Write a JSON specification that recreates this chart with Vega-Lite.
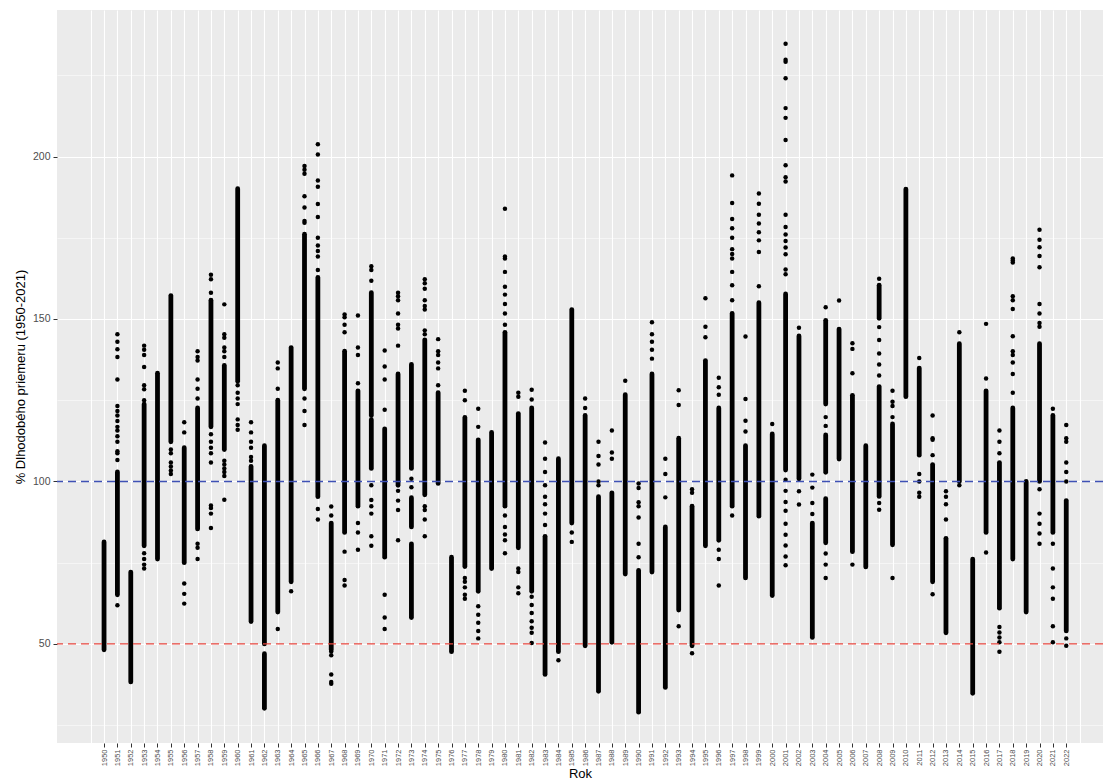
{
"$schema": "https://vega.github.io/schema/vega-lite/v6.json",
"width": 1046, "height": 733,
"autosize": {"type": "none"},
"padding": {"left": 57, "top": 10, "right": 0, "bottom": 40},
"background": "white",
"config": {"view": {"fill": "#EBEBEB", "stroke": null}, "font": "Liberation Sans"},
"datasets": {
"segs": [
{"Year":1950,"lo":48.2,"hi":81.4},{"Year":1951,"lo":65.1,"hi":102.9},{"Year":1952,"lo":38.3,"hi":72.1},{"Year":1953,"lo":80.2,"hi":123.8},
{"Year":1954,"lo":76.1,"hi":133.3},{"Year":1955,"lo":112.2,"hi":157.2},{"Year":1956,"lo":75.0,"hi":110.4},{"Year":1957,"lo":85.4,"hi":122.6},
{"Year":1958,"lo":116.8,"hi":155.8},{"Year":1959,"lo":109.8,"hi":135.7},{"Year":1960,"lo":130.8,"hi":190.1},{"Year":1961,"lo":56.9,"hi":104.6},
{"Year":1962,"lo":50,"hi":111},{"Year":1962,"lo":30.2,"hi":47},{"Year":1963,"lo":59.8,"hi":125},{"Year":1964,"lo":69.1,"hi":141.2},
{"Year":1965,"lo":128.5,"hi":176.1},{"Year":1966,"lo":95.3,"hi":162.8},{"Year":1967,"lo":48.2,"hi":87.2},{"Year":1968,"lo":84.3,"hi":140.1},
{"Year":1969,"lo":92.4,"hi":127.9},{"Year":1970,"lo":120.3,"hi":158.1},{"Year":1970,"lo":104,"hi":119},{"Year":1971,"lo":76.7,"hi":116.2},
{"Year":1972,"lo":98.8,"hi":133.1},{"Year":1973,"lo":104,"hi":136},{"Year":1973,"lo":86,"hi":95},{"Year":1973,"lo":58.1,"hi":80.8},
{"Year":1974,"lo":95.9,"hi":143.6},{"Year":1975,"lo":99.4,"hi":127.3},{"Year":1976,"lo":47.6,"hi":76.7},{"Year":1977,"lo":73.8,"hi":119.7},
{"Year":1978,"lo":66.2,"hi":112.8},{"Year":1979,"lo":73.2,"hi":115.1},{"Year":1980,"lo":92.4,"hi":145.9},{"Year":1981,"lo":79.6,"hi":120.9},
{"Year":1982,"lo":66.2,"hi":122.6},{"Year":1983,"lo":40.6,"hi":83.1},{"Year":1984,"lo":47.6,"hi":107},{"Year":1985,"lo":87.2,"hi":152.9},
{"Year":1986,"lo":49.4,"hi":120.3},{"Year":1987,"lo":35.4,"hi":95.3},{"Year":1988,"lo":50.5,"hi":96.5},{"Year":1989,"lo":71.5,"hi":126.7},
{"Year":1990,"lo":29,"hi":72.6},{"Year":1991,"lo":72.1,"hi":133.1},{"Year":1992,"lo":36.6,"hi":86},{"Year":1993,"lo":60.4,"hi":113.3},
{"Year":1994,"lo":49.4,"hi":92.4},{"Year":1995,"lo":80.2,"hi":137.2},{"Year":1996,"lo":81.9,"hi":122.6},{"Year":1997,"lo":92.4,"hi":151.7},
{"Year":1998,"lo":70.3,"hi":111},{"Year":1999,"lo":89.3,"hi":155},{"Year":2000,"lo":64.9,"hi":114.6},{"Year":2001,"lo":103.5,"hi":157.7},
{"Year":2002,"lo":100.8,"hi":144.8},{"Year":2003,"lo":52,"hi":87.2},{"Year":2004,"lo":123.8,"hi":149.6},{"Year":2004,"lo":102.8,"hi":114.3},
{"Year":2004,"lo":81.1,"hi":94.7},{"Year":2005,"lo":106.9,"hi":146.9},{"Year":2006,"lo":78.4,"hi":126.5},{"Year":2007,"lo":73.7,"hi":111},
{"Year":2008,"lo":150.2,"hi":160.4},{"Year":2008,"lo":95.4,"hi":129.2},{"Year":2009,"lo":80.5,"hi":117.7},{"Year":2010,"lo":126.1,"hi":190},
{"Year":2011,"lo":108.1,"hi":134.9},{"Year":2012,"lo":69.1,"hi":105.2},{"Year":2013,"lo":53.4,"hi":82.5},{"Year":2014,"lo":100,"hi":142.4},
{"Year":2015,"lo":34.8,"hi":76.1},{"Year":2016,"lo":84.3,"hi":127.9},{"Year":2017,"lo":61,"hi":105.8},{"Year":2018,"lo":76.1,"hi":122.6},
{"Year":2019,"lo":59.8,"hi":100},{"Year":2020,"lo":100,"hi":142.4},{"Year":2021,"lo":84.3,"hi":120.3},{"Year":2022,"lo":54,"hi":94.1}
],
"pts": [
{"Year":1951,"v":145.3},{"Year":1951,"v":143},{"Year":1951,"v":140.7},{"Year":1951,"v":138.3},{"Year":1951,"v":131.4},{"Year":1951,"v":123.2},{"Year":1951,"v":121.7},{"Year":1951,"v":120.3},{"Year":1951,"v":118.6},{"Year":1951,"v":116.8},{"Year":1951,"v":115.7},{"Year":1951,"v":113.9},{"Year":1951,"v":112.2},{"Year":1951,"v":109.3},{"Year":1951,"v":108.7},{"Year":1951,"v":106.6},{"Year":1951,"v":61.9},
{"Year":1953,"v":141.8},{"Year":1953,"v":140.5},{"Year":1953,"v":138.9},{"Year":1953,"v":135.2},{"Year":1953,"v":129.6},{"Year":1953,"v":128.4},{"Year":1953,"v":125},{"Year":1953,"v":77.9},{"Year":1953,"v":76.1},{"Year":1953,"v":74.4},{"Year":1953,"v":73.2},
{"Year":1955,"v":109.8},{"Year":1955,"v":108.7},{"Year":1955,"v":105.8},{"Year":1955,"v":104.6},{"Year":1955,"v":103.4},{"Year":1955,"v":102.3},
{"Year":1956,"v":118.2},{"Year":1956,"v":115.1},{"Year":1956,"v":68.6},{"Year":1956,"v":65.4},{"Year":1956,"v":62.4},
{"Year":1957,"v":140.1},{"Year":1957,"v":138.3},{"Year":1957,"v":137.2},{"Year":1957,"v":131.4},{"Year":1957,"v":128.5},{"Year":1957,"v":125.5},{"Year":1957,"v":80.8},{"Year":1957,"v":79.6},{"Year":1957,"v":76.1},
{"Year":1958,"v":163.6},{"Year":1958,"v":162.2},{"Year":1958,"v":158.1},{"Year":1958,"v":114.5},{"Year":1958,"v":112.2},{"Year":1958,"v":110.4},{"Year":1958,"v":108.7},{"Year":1958,"v":105.8},{"Year":1958,"v":92.6},{"Year":1958,"v":91.8},{"Year":1958,"v":90.1},{"Year":1958,"v":85.7},
{"Year":1959,"v":154.5},{"Year":1959,"v":145.3},{"Year":1959,"v":144.2},{"Year":1959,"v":141.2},{"Year":1959,"v":140.1},{"Year":1959,"v":138.3},{"Year":1959,"v":106.4},{"Year":1959,"v":105.2},{"Year":1959,"v":104},{"Year":1959,"v":102.9},{"Year":1959,"v":101.7},{"Year":1959,"v":94.4},
{"Year":1960,"v":129.6},{"Year":1960,"v":127.3},{"Year":1960,"v":125.5},{"Year":1960,"v":123.8},{"Year":1960,"v":119.1},{"Year":1960,"v":117.4},{"Year":1960,"v":115.9},
{"Year":1961,"v":118.2},{"Year":1961,"v":115.1},{"Year":1961,"v":112.2},{"Year":1961,"v":110.4},{"Year":1961,"v":107.5},{"Year":1961,"v":106.4},
{"Year":1963,"v":136.6},{"Year":1963,"v":134.8},{"Year":1963,"v":128.5},{"Year":1963,"v":54.6},
{"Year":1964,"v":66.2},
{"Year":1965,"v":197.1},{"Year":1965,"v":195.9},{"Year":1965,"v":194.7},{"Year":1965,"v":187.8},{"Year":1965,"v":184.3},{"Year":1965,"v":180.2},{"Year":1965,"v":179.6},{"Year":1965,"v":125.5},{"Year":1965,"v":121.7},{"Year":1965,"v":117.4},
{"Year":1966,"v":203.8},{"Year":1966,"v":200.6},{"Year":1966,"v":192.6},{"Year":1966,"v":190.7},{"Year":1966,"v":185.4},{"Year":1966,"v":181.4},{"Year":1966,"v":175},{"Year":1966,"v":172.6},{"Year":1966,"v":170.9},{"Year":1966,"v":169.2},{"Year":1966,"v":165.1},{"Year":1966,"v":91.5},{"Year":1966,"v":88.3},
{"Year":1967,"v":92.3},{"Year":1967,"v":89.5},{"Year":1967,"v":47.7},{"Year":1967,"v":46.5},{"Year":1967,"v":40.6},{"Year":1967,"v":38.3},{"Year":1967,"v":37.7},
{"Year":1968,"v":151.4},{"Year":1968,"v":150.5},{"Year":1968,"v":148.2},{"Year":1968,"v":145.9},{"Year":1968,"v":78.4},{"Year":1968,"v":69.7},{"Year":1968,"v":68},
{"Year":1969,"v":151.1},{"Year":1969,"v":141.2},{"Year":1969,"v":138.9},{"Year":1969,"v":130.2},{"Year":1969,"v":87.2},{"Year":1969,"v":84.3},{"Year":1969,"v":79},
{"Year":1970,"v":166.2},{"Year":1970,"v":165.1},{"Year":1970,"v":161.8},{"Year":1970,"v":98.8},{"Year":1970,"v":94.3},{"Year":1970,"v":92.4},{"Year":1970,"v":90.1},{"Year":1970,"v":83.1},{"Year":1970,"v":80.2},
{"Year":1971,"v":140.3},{"Year":1971,"v":135.4},{"Year":1971,"v":131.4},{"Year":1971,"v":122.1},{"Year":1971,"v":65.1},{"Year":1971,"v":58.1},{"Year":1971,"v":54.6},
{"Year":1972,"v":158.1},{"Year":1972,"v":157},{"Year":1972,"v":155.8},{"Year":1972,"v":151.7},{"Year":1972,"v":148.2},{"Year":1972,"v":147.1},{"Year":1972,"v":141.8},{"Year":1972,"v":97.1},{"Year":1972,"v":94.1},{"Year":1972,"v":91.2},{"Year":1972,"v":81.9},
{"Year":1973,"v":100.8},{"Year":1973,"v":98.2},
{"Year":1974,"v":162.2},{"Year":1974,"v":161},{"Year":1974,"v":159.3},{"Year":1974,"v":155.8},{"Year":1974,"v":154},{"Year":1974,"v":152.9},{"Year":1974,"v":146.5},{"Year":1974,"v":145.3},{"Year":1974,"v":92.4},{"Year":1974,"v":91.2},{"Year":1974,"v":88.3},{"Year":1974,"v":83.1},
{"Year":1975,"v":143.8},{"Year":1975,"v":140.1},{"Year":1975,"v":138.9},{"Year":1975,"v":136.6},{"Year":1975,"v":134.8},{"Year":1975,"v":129.6},
{"Year":1977,"v":127.9},{"Year":1977,"v":125},{"Year":1977,"v":70.3},{"Year":1977,"v":69.1},{"Year":1977,"v":67.4},{"Year":1977,"v":65.1},{"Year":1977,"v":63.9},
{"Year":1978,"v":122.4},{"Year":1978,"v":116.8},{"Year":1978,"v":61.6},{"Year":1978,"v":59},{"Year":1978,"v":56.5},{"Year":1978,"v":54},{"Year":1978,"v":51.7},
{"Year":1980,"v":183.9},{"Year":1980,"v":169.2},{"Year":1980,"v":168.6},{"Year":1980,"v":164.5},{"Year":1980,"v":159.9},{"Year":1980,"v":157.5},{"Year":1980,"v":154.6},{"Year":1980,"v":151.7},{"Year":1980,"v":148.2},{"Year":1980,"v":89.5},{"Year":1980,"v":86},{"Year":1980,"v":83.7},{"Year":1980,"v":81.9},{"Year":1980,"v":77.9},
{"Year":1981,"v":127.3},{"Year":1981,"v":126.1},{"Year":1981,"v":73.2},{"Year":1981,"v":72.1},{"Year":1981,"v":67.4},{"Year":1981,"v":65.6},
{"Year":1982,"v":128.2},{"Year":1982,"v":125.2},{"Year":1982,"v":64.5},{"Year":1982,"v":62},{"Year":1982,"v":59.5},{"Year":1982,"v":57},{"Year":1982,"v":55},{"Year":1982,"v":53.4},{"Year":1982,"v":50.3},
{"Year":1983,"v":112},{"Year":1983,"v":107},{"Year":1983,"v":102.9},{"Year":1983,"v":98.8},{"Year":1983,"v":95.3},{"Year":1983,"v":93},{"Year":1983,"v":90.1},{"Year":1983,"v":86.6},
{"Year":1984,"v":45},
{"Year":1985,"v":84.3},{"Year":1985,"v":81.4},
{"Year":1986,"v":125.5},{"Year":1986,"v":122.6},
{"Year":1987,"v":112.2},{"Year":1987,"v":107.8},{"Year":1987,"v":105.2},{"Year":1987,"v":100},{"Year":1987,"v":98.8},
{"Year":1988,"v":115.7},{"Year":1988,"v":108.9},{"Year":1988,"v":107},
{"Year":1989,"v":131},
{"Year":1990,"v":99.4},{"Year":1990,"v":98},{"Year":1990,"v":93.6},{"Year":1990,"v":92.4},{"Year":1990,"v":88.9},{"Year":1990,"v":80.8},{"Year":1990,"v":76.7},
{"Year":1991,"v":149},{"Year":1991,"v":145.3},{"Year":1991,"v":143},{"Year":1991,"v":140.5},{"Year":1991,"v":137.8},
{"Year":1992,"v":107},{"Year":1992,"v":102.3},{"Year":1992,"v":95.1},
{"Year":1993,"v":128.1},{"Year":1993,"v":123.5},{"Year":1993,"v":55.4},
{"Year":1994,"v":97.6},{"Year":1994,"v":96.5},{"Year":1994,"v":47.1},
{"Year":1995,"v":156.4},{"Year":1995,"v":147.6},{"Year":1995,"v":144.4},
{"Year":1996,"v":131.9},{"Year":1996,"v":129},{"Year":1996,"v":126.7},{"Year":1996,"v":79},{"Year":1996,"v":76.1},{"Year":1996,"v":68},
{"Year":1997,"v":194.2},{"Year":1997,"v":185.7},{"Year":1997,"v":180.8},{"Year":1997,"v":177.9},{"Year":1997,"v":175},{"Year":1997,"v":171.5},{"Year":1997,"v":170},{"Year":1997,"v":168.6},{"Year":1997,"v":164.5},{"Year":1997,"v":160.4},{"Year":1997,"v":155.8},{"Year":1997,"v":89.5},
{"Year":1998,"v":144.6},{"Year":1998,"v":125.4},{"Year":1998,"v":118.7},{"Year":1998,"v":115.4},
{"Year":1999,"v":188.6},{"Year":1999,"v":185.5},{"Year":1999,"v":182.1},{"Year":1999,"v":179.4},{"Year":1999,"v":176.7},{"Year":1999,"v":174.2},{"Year":1999,"v":170.6},{"Year":1999,"v":160.1},
{"Year":2000,"v":117.7},
{"Year":2001,"v":234.7},{"Year":2001,"v":229.8},{"Year":2001,"v":229.2},{"Year":2001,"v":224.1},{"Year":2001,"v":214.9},{"Year":2001,"v":211.9},{"Year":2001,"v":205.1},{"Year":2001,"v":197.3},{"Year":2001,"v":193.6},{"Year":2001,"v":192.3},{"Year":2001,"v":182.1},{"Year":2001,"v":178.3},{"Year":2001,"v":176},{"Year":2001,"v":174},{"Year":2001,"v":172},{"Year":2001,"v":169.9},{"Year":2001,"v":165.2},{"Year":2001,"v":163.8},{"Year":2001,"v":100.5},{"Year":2001,"v":97.1},{"Year":2001,"v":93.7},{"Year":2001,"v":91},{"Year":2001,"v":87},{"Year":2001,"v":83.6},{"Year":2001,"v":80.3},{"Year":2001,"v":76.9},{"Year":2001,"v":74.2},
{"Year":2002,"v":147.3},{"Year":2002,"v":97},{"Year":2002,"v":92.9},
{"Year":2003,"v":102.1},{"Year":2003,"v":98.1},{"Year":2003,"v":93.4},{"Year":2003,"v":90},
{"Year":2004,"v":153.6},{"Year":2004,"v":119.8},{"Year":2004,"v":117.1},{"Year":2004,"v":77.8},{"Year":2004,"v":74.4},{"Year":2004,"v":70.3},
{"Year":2005,"v":155.7},
{"Year":2006,"v":142.5},{"Year":2006,"v":140.8},{"Year":2006,"v":133.3},{"Year":2006,"v":74.4},
{"Year":2008,"v":162.4},{"Year":2008,"v":147.5},{"Year":2008,"v":143.5},{"Year":2008,"v":139.4},{"Year":2008,"v":136},{"Year":2008,"v":132.6},{"Year":2008,"v":93.4},{"Year":2008,"v":91.3},
{"Year":2009,"v":127.9},{"Year":2009,"v":124.5},{"Year":2009,"v":123.2},{"Year":2009,"v":119.8},{"Year":2009,"v":70.3},
{"Year":2011,"v":138},{"Year":2011,"v":102.3},{"Year":2011,"v":100},{"Year":2011,"v":96.5},{"Year":2011,"v":95.3},
{"Year":2012,"v":120.3},{"Year":2012,"v":113.3},{"Year":2012,"v":112.8},{"Year":2012,"v":108.1},{"Year":2012,"v":65.3},
{"Year":2013,"v":97},{"Year":2013,"v":95.3},{"Year":2013,"v":93},{"Year":2013,"v":88.3},
{"Year":2014,"v":145.9},{"Year":2014,"v":98.8},
{"Year":2016,"v":148.5},{"Year":2016,"v":131.7},{"Year":2016,"v":78.1},
{"Year":2017,"v":115.7},{"Year":2017,"v":112.2},{"Year":2017,"v":108.7},{"Year":2017,"v":55.2},{"Year":2017,"v":53.5},{"Year":2017,"v":52},{"Year":2017,"v":50.5},{"Year":2017,"v":47.6},
{"Year":2018,"v":168.6},{"Year":2018,"v":168},{"Year":2018,"v":167.4},{"Year":2018,"v":157},{"Year":2018,"v":155.8},{"Year":2018,"v":153.1},{"Year":2018,"v":144.7},{"Year":2018,"v":140.1},{"Year":2018,"v":138.9},{"Year":2018,"v":136.6},{"Year":2018,"v":133.1},{"Year":2018,"v":127.3},
{"Year":2020,"v":177.5},{"Year":2020,"v":174.4},{"Year":2020,"v":172.1},{"Year":2020,"v":169.4},{"Year":2020,"v":165.9},{"Year":2020,"v":154.6},{"Year":2020,"v":151.7},{"Year":2020,"v":148.8},{"Year":2020,"v":147.6},{"Year":2020,"v":97.6},{"Year":2020,"v":90.1},{"Year":2020,"v":87},{"Year":2020,"v":84},{"Year":2020,"v":80.8},
{"Year":2021,"v":122.4},{"Year":2021,"v":80.8},{"Year":2021,"v":73.2},{"Year":2021,"v":67.4},{"Year":2021,"v":63.9},{"Year":2021,"v":55.4},{"Year":2021,"v":50.5},
{"Year":2022,"v":117.4},{"Year":2022,"v":113.3},{"Year":2022,"v":112.2},{"Year":2022,"v":105.8},{"Year":2022,"v":102.9},{"Year":2022,"v":100},{"Year":2022,"v":51.7},{"Year":2022,"v":49.4}
],
"refs": [{"v": 100, "c": "blue"}, {"v": 50, "c": "red"}]
},
"layer": [
{
"data": {"name": "segs"},
"mark": {"type": "rule", "strokeWidth": 4.8, "strokeCap": "round", "color": "black"},
"encoding": {
"x": {"field": "Year", "type": "quantitative", "title": "Rok",
"scale": {"domain": [1946.48, 2024.75], "nice": false, "zero": false},
"axis": {"title": "Rok", "titleFontSize": 13, "titleColor": "black", "titleFontWeight": "normal", "titlePadding": 2,
"tickCount": 156, "format": "d",
"labelExpr": "(datum.value % 1 === 0 && datum.value >= 1950 && datum.value <= 2022) ? datum.label : ''",
"labelAngle": -90, "labelFontSize": 7.5, "labelColor": "#4D4D4D", "labelOverlap": false, "labelPadding": 2, "labelBound": false, "labelFlush": false,
"tickColor": "#333333", "tickSize": 4,
"tickOpacity": {"condition": {"test": "datum.value % 1 === 0 && datum.value >= 1950 && datum.value <= 2022", "value": 1}, "value": 0},
"gridColor": "white",
"gridWidth": {"condition": {"test": "datum.value % 1 === 0", "value": 1.1}, "value": 0.5},
"gridOpacity": {"condition": {"test": "datum.value >= 1949 && datum.value <= 2023", "value": 1}, "value": 0},
"domain": false}},
"y": {"field": "lo", "type": "quantitative", "title": "% Dlhodobého priemeru (1950-2021)",
"scale": {"domain": [19.5, 245.1], "nice": false, "zero": false},
"axis": {"title": "% Dlhodobého priemeru (1950-2021)", "titleFontSize": 13, "titleColor": "black", "titleFontWeight": "normal", "titlePadding": 5,
"values": [25, 50, 75, 100, 125, 150, 175, 200, 225],
"labelExpr": "datum.value % 50 === 0 ? datum.label : ''",
"labelFontSize": 10.5, "labelColor": "#4D4D4D", "labelPadding": 3,
"tickColor": "#333333", "tickSize": 4,
"tickOpacity": {"condition": {"test": "datum.value % 50 === 0", "value": 1}, "value": 0},
"gridColor": "white",
"gridWidth": {"condition": {"test": "datum.value % 50 === 0", "value": 1.1}, "value": 0.5},
"domain": false}},
"y2": {"field": "hi"}
}
},
{
"data": {"name": "pts"},
"mark": {"type": "circle", "size": 20, "color": "black", "opacity": 1},
"encoding": {
"x": {"field": "Year", "type": "quantitative", "title": "Rok"},
"y": {"field": "v", "type": "quantitative", "title": "% Dlhodobého priemeru (1950-2021)"}
}
},
{
"data": {"name": "refs"},
"mark": {"type": "rule", "strokeDash": [8, 5], "strokeWidth": 1.4},
"encoding": {
"y": {"field": "v", "type": "quantitative", "title": "% Dlhodobého priemeru (1950-2021)"},
"color": {"field": "c", "type": "nominal", "scale": {"domain": ["blue", "red"], "range": ["#3F51B5", "#E8473F"]}, "legend": null}
}
}
]
}
